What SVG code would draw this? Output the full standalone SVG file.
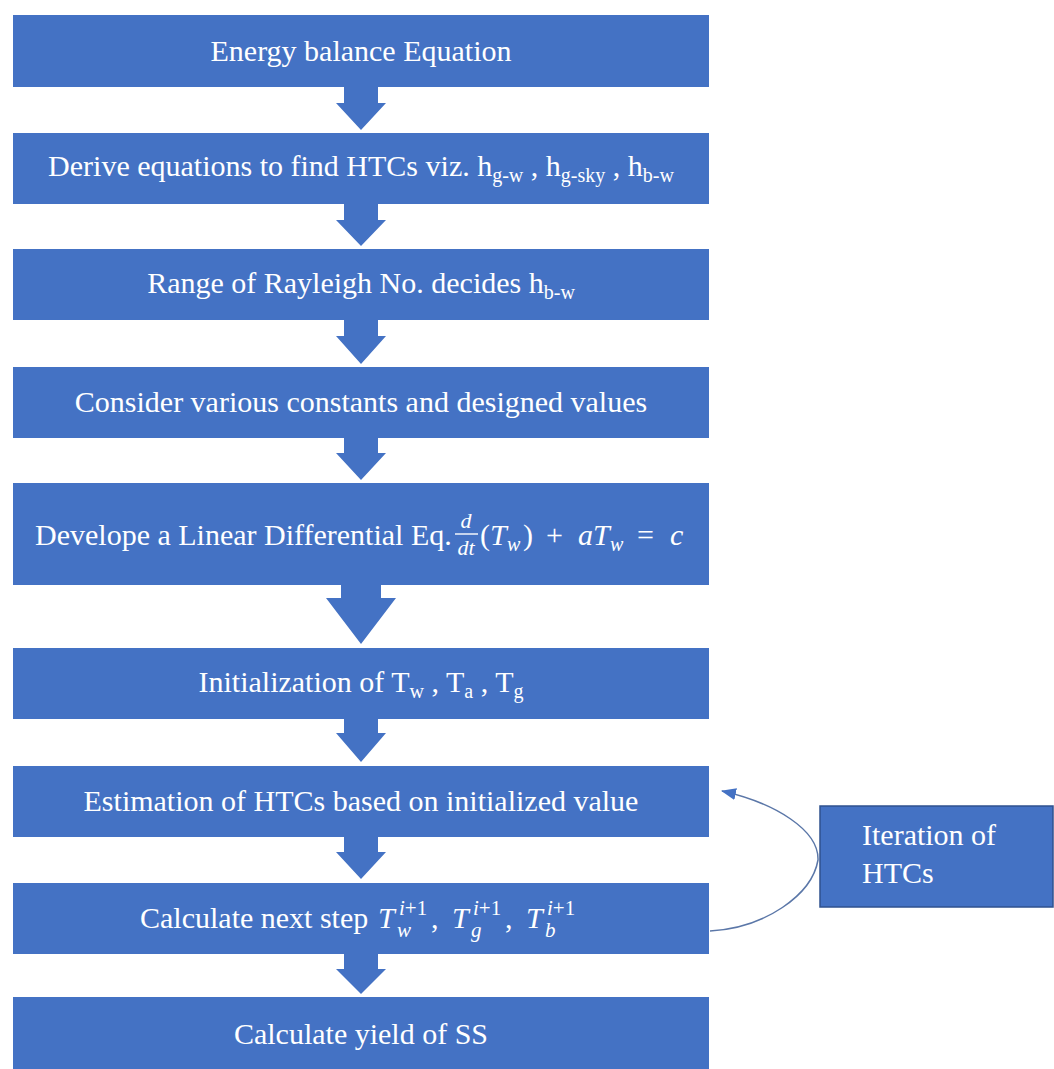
<svg xmlns="http://www.w3.org/2000/svg" width="1054" height="1069" viewBox="0 0 1054 1069">
<style>
.box{fill:#4472C4}
.t{font-family:"Liberation Serif","Times New Roman",serif;font-size:30px;fill:#FFFFFF}
.m{text-anchor:middle}
.i{font-style:italic}
.s{font-size:20px}
.ss{font-size:21px}
.arr{fill:#4472C4}
.conn{fill:none;stroke:#5B77A8;stroke-width:1.5}
</style>
<defs>
<marker id="ah" markerWidth="15" markerHeight="12" refX="14" refY="6" orient="auto" markerUnits="userSpaceOnUse">
<path d="M0,0 L15,6 L0,12 Z" fill="#4472C4"/>
</marker>
</defs>
<rect width="1054" height="1069" fill="#FFFFFF"/>

<g id="connectors">
<polygon class="arr" points="344,87 378,87 378,103 386,103 361,130 336,103 344,103"/>
<polygon class="arr" points="344,204 378,204 378,220 386,220 361,246 336,220 344,220"/>
<polygon class="arr" points="344,320 378,320 378,336 386,336 361,364 336,336 344,336"/>
<polygon class="arr" points="344,438 378,438 378,453 386,453 361,480 336,453 344,453"/>
<polygon class="arr" points="341,585 381,585 381,598 396,598 361,644 326,598 341,598"/>
<polygon class="arr" points="344,719 378,719 378,733 386,733 361,762 336,733 344,733"/>
<polygon class="arr" points="344,837 378,837 378,852 386,852 361,879 336,852 344,852"/>
<polygon class="arr" points="344,954 378,954 378,969 386,969 361,994 336,969 344,969"/>
<path class="conn" d="M710,931 C765,928 812,895 818,860 C819,830 775,803 722,791" marker-end="url(#ah)"/>
</g>

<g id="n1">
<rect class="box" x="13" y="15" width="696" height="72"/>
<text class="t m" x="361" y="61">Energy balance Equation</text>
</g>

<g id="n2">
<rect class="box" x="13" y="133" width="696" height="71"/>
<text class="t m" x="361" y="176">Derive equations to find HTCs viz. h<tspan class="s" dy="6">g-w</tspan><tspan dy="-6"> , h</tspan><tspan class="s" dy="6">g-sky</tspan><tspan dy="-6"> , h</tspan><tspan class="s" dy="6">b-w</tspan></text>
</g>

<g id="n3">
<rect class="box" x="13" y="249" width="696" height="71"/>
<text class="t m" x="361" y="293">Range of Rayleigh No. decides h<tspan class="s" dy="6">b-w</tspan></text>
</g>

<g id="n4">
<rect class="box" x="13" y="367" width="696" height="71"/>
<text class="t m" x="361" y="412">Consider various constants and designed values</text>
</g>

<g id="n5">
<rect class="box" x="13" y="483" width="696" height="102"/>
<text class="t" x="35" y="545">Develope a Linear Differential Eq.</text>
<text class="t i m" x="466" y="528" style="font-size:22px">d</text>
<line x1="455" y1="534" x2="478" y2="534" stroke="#FFFFFF" stroke-width="1.4"/>
<text class="t i m" x="466" y="555" style="font-size:22px">dt</text>
<text class="t" y="545"><tspan x="480">(</tspan><tspan class="i" x="490">T</tspan><tspan class="i s" x="507" dy="6">w</tspan><tspan x="523" dy="-6">)</tspan><tspan x="546">+</tspan><tspan class="i" x="578">a</tspan><tspan class="i" x="593">T</tspan><tspan class="i s" x="610" dy="6">w</tspan><tspan x="637" dy="-6">=</tspan><tspan class="i" x="670">c</tspan></text>
</g>

<g id="n6">
<rect class="box" x="13" y="648" width="696" height="71"/>
<text class="t m" x="361" y="692">Initialization of T<tspan class="s" dy="6">w</tspan><tspan dy="-6"> , T</tspan><tspan class="s" dy="6">a</tspan><tspan dy="-6"> , T</tspan><tspan class="s" dy="6">g</tspan></text>
</g>

<g id="n7">
<rect class="box" x="13" y="766" width="696" height="71"/>
<text class="t m" x="361" y="811">Estimation of HTCs based on initialized value</text>
</g>

<g id="n8">
<rect class="box" x="13" y="883" width="696" height="71"/>
<text class="t" x="140" y="928">Calculate next step</text>
<text class="t i" x="378" y="928">T</text>
<text class="t ss" x="399" y="915"><tspan class="i">i</tspan>+1</text>
<text class="t i ss" x="397" y="937">w</text>
<text class="t" x="431" y="928">,</text>
<text class="t i" x="452" y="928">T</text>
<text class="t ss" x="473" y="915"><tspan class="i">i</tspan>+1</text>
<text class="t i ss" x="471" y="937">g</text>
<text class="t" x="505" y="928">,</text>
<text class="t i" x="526" y="928">T</text>
<text class="t ss" x="547" y="915"><tspan class="i">i</tspan>+1</text>
<text class="t i ss" x="545" y="937">b</text>
</g>

<g id="n9">
<rect class="box" x="13" y="997" width="696" height="72"/>
<text class="t m" x="361" y="1044">Calculate yield of SS</text>
</g>

<g id="n10">
<rect x="820" y="806" width="233" height="101" fill="#4472C4" stroke="#2F528F" stroke-width="1.5"/>
<text class="t" x="862" y="845">Iteration of</text>
<text class="t" x="862" y="883">HTCs</text>
</g>
</svg>
